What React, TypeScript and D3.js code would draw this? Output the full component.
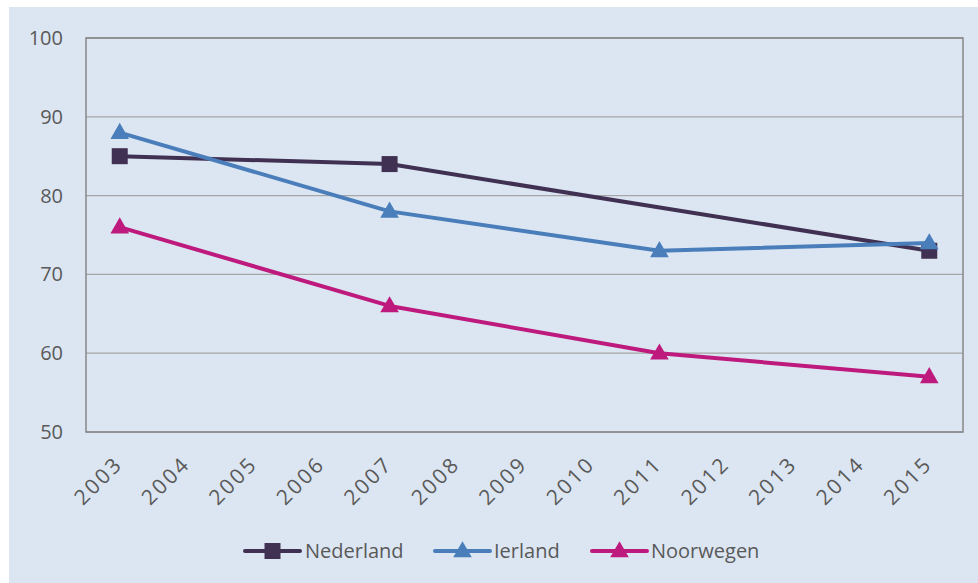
import React from "react";
import * as d3 from "d3";

const years = ["2003", "2004", "2005", "2006", "2007", "2008", "2009", "2010", "2011", "2012", "2013", "2014", "2015"];
const yTicks = [50, 60, 70, 80, 90, 100];

// Survey years with values; a missing year is simply skipped in the line.
const nederland: [string, number][] = [["2003", 85], ["2007", 84], ["2015", 73]];
const ierland: [string, number][] = [["2003", 88], ["2007", 78], ["2011", 73], ["2015", 74]];
const noorwegen: [string, number][] = [["2003", 76], ["2007", 66], ["2011", 60], ["2015", 57]];

const seriesNames = ["Nederland", "Ierland", "Noorwegen"];
const seriesData = [nederland, ierland, noorwegen];
const seriesColors = ["#403152", "#4A7EBB", "#BE1A7E"];
const seriesMarkers = ["square", "triangle", "triangle"];

const W = 978;
const H = 583;
const plot = { left: 86, top: 38, right: 963, bottom: 432 };
const FONT = "'Open Sans', 'DejaVu Sans', sans-serif";
const TEXT = "#595959";

function Marker({ kind, x, y, color }: { kind: string; x: number; y: number; color: string }) {
  if (kind === "square") {
    const s = 16;
    return <rect x={x - s / 2} y={y - s / 2} width={s} height={s} fill={color} />;
  }
  const tri = d3.symbol(d3.symbolTriangle, 150)();
  return <path d={tri ?? ""} transform={`translate(${x},${y + 1})`} fill={color} />;
}

export default function App() {
  const x = d3.scaleBand<string>().domain(years).range([plot.left, plot.right]);
  const cx = (yr: string) => (x(yr) ?? 0) + x.bandwidth() / 2;
  const y = d3.scaleLinear().domain([50, 100]).range([plot.bottom, plot.top]);
  const line = d3
    .line<[string, number]>()
    .x((d) => cx(d[0]))
    .y((d) => y(d[1]));

  const legendItems = [
    { x: 245, textX: 305 },
    { x: 435, textX: 494 },
    { x: 592, textX: 651 },
  ];
  const legendY = 551;

  return (
    <svg
      width={W}
      height={H}
      style={{ position: "absolute", left: 0, top: 0, display: "block" }}
      fontFamily={FONT}
    >
      <rect x={0} y={0} width={W} height={H} fill="#ffffff" />
      <rect x={9} y={7} width={W - 9} height={H - 7} fill="#DCE6F2" />

      {/* horizontal gridlines */}
      {yTicks.map((t) => (
        <line key={t} x1={plot.left} x2={plot.right} y1={y(t)} y2={y(t)} stroke="#A6A6A6" strokeWidth={1.3} />
      ))}
      {/* plot border */}
      <rect
        x={plot.left}
        y={plot.top}
        width={plot.right - plot.left}
        height={plot.bottom - plot.top}
        fill="none"
        stroke="#878787"
        strokeWidth={1.5}
      />

      {/* y axis labels */}
      {yTicks.map((t) => (
        <text key={t} x={63} y={y(t)} dy="0.35em" textAnchor="end" fontSize={20} fill={TEXT}>
          {t}
        </text>
      ))}

      {/* x axis labels, rotated */}
      {years.map((yr) => (
        <text
          key={yr}
          transform={`translate(${cx(yr) - 1},${plot.bottom + 28}) rotate(-45)`}
          textAnchor="end"
          dy="0.35em"
          fontSize={21}
          letterSpacing={2.5}
          fill={TEXT}
        >
          {yr}
        </text>
      ))}

      {/* series lines and markers */}
      {seriesData.map((data, i) => (
        <g key={seriesNames[i]}>
          <path d={line(data) ?? ""} fill="none" stroke={seriesColors[i]} strokeWidth={4} strokeLinejoin="round" />
          {data.map((d) => (
            <Marker key={d[0]} kind={seriesMarkers[i]} x={cx(d[0])} y={y(d[1])} color={seriesColors[i]} />
          ))}
        </g>
      ))}

      {/* legend */}
      {legendItems.map((it, i) => (
        <g key={seriesNames[i]}>
          <line x1={it.x} x2={it.x + 55} y1={legendY} y2={legendY} stroke={seriesColors[i]} strokeWidth={4} strokeLinecap="round" />
          <Marker kind={seriesMarkers[i]} x={it.x + 27.5} y={legendY} color={seriesColors[i]} />
          <text x={it.textX} y={legendY} dy="0.35em" fontSize={20} fill={TEXT}>
            {seriesNames[i]}
          </text>
        </g>
      ))}
    </svg>
  );
}
